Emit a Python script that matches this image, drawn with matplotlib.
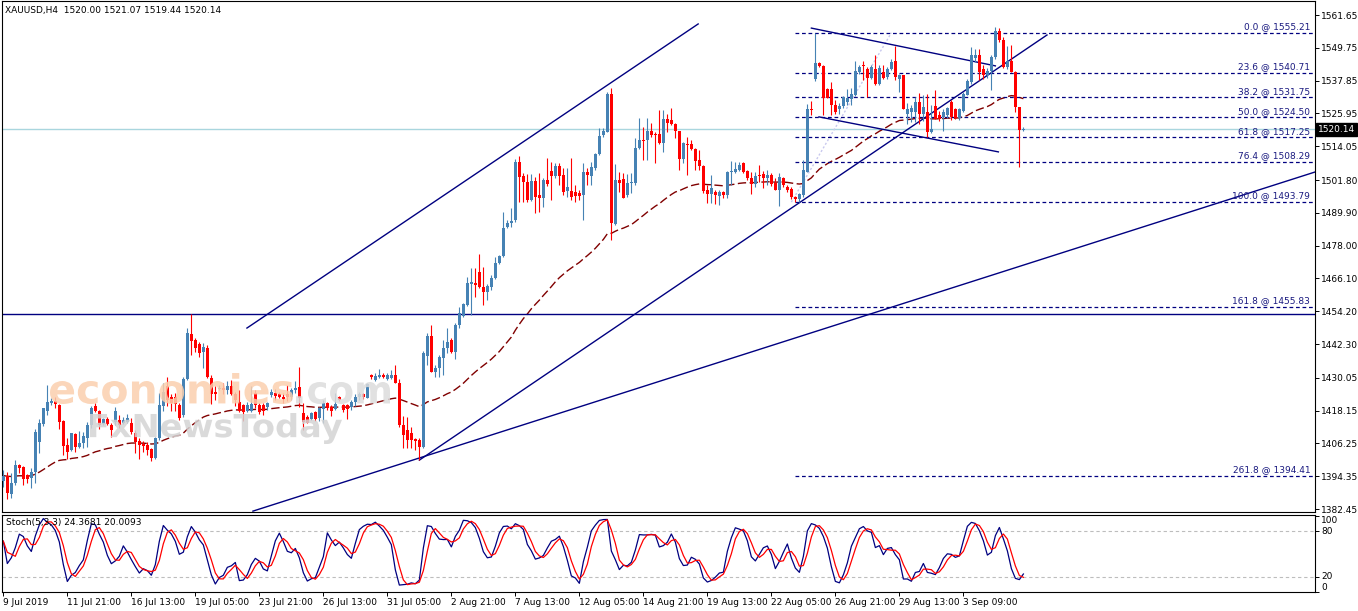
import numpy as np
import pandas as pd
import matplotlib
matplotlib.use("Agg")
import matplotlib.pyplot as plt
from matplotlib.textpath import TextPath
from matplotlib.patches import PathPatch
from matplotlib.font_manager import FontProperties
from matplotlib.transforms import Affine2D, blended_transform_factory

# ---------------- data ----------------
symbol_title = "XAUUSD,H4  1520.00 1521.07 1519.44 1520.14"
stoch_title = "Stoch(5,3,3) 24.3681 20.0093"

opens = [
    1392.6, 1394.5, 1388.0, 1391.8, 1398.4, 1397.8, 1394.8, 1393.6,
    1395.8, 1406.9, 1413.2, 1418.0, 1420.8, 1421.5, 1420.2, 1414.4,
    1405.7, 1403.9, 1409.7, 1405.1, 1406.3, 1408.1, 1413.0, 1420.0,
    1418.0, 1413.2, 1415.1, 1413.0, 1414.0, 1414.7, 1413.5, 1414.0,
    1413.5, 1410.2, 1407.1, 1406.0, 1405.7, 1404.2, 1401.1, 1408.1,
    1420.0, 1427.0, 1423.0, 1423.0, 1420.2, 1416.6, 1429.6, 1445.8,
    1443.8, 1442.2, 1439.5, 1441.0, 1430.0, 1425.0, 1426.0, 1426.5,
    1425.5, 1427.0, 1424.0, 1421.4, 1420.2, 1418.0, 1418.0, 1424.4,
    1420.2, 1420.2, 1419.6, 1423.8, 1424.5, 1424.2, 1423.0, 1424.0,
    1423.0, 1425.5, 1426.8, 1417.2, 1415.9, 1415.0, 1417.8, 1415.3,
    1418.6, 1421.0, 1419.6, 1418.6, 1423.2, 1420.2, 1420.2, 1419.6,
    1421.4, 1423.0, 1424.0, 1422.9, 1431.1, 1429.3, 1430.2, 1431.0,
    1429.7, 1429.9, 1431.1, 1428.3, 1412.9, 1411.1, 1409.9, 1407.7,
    1407.5, 1405.1, 1438.0, 1445.2, 1432.3, 1433.7, 1437.1, 1440.8,
    1443.8, 1439.5, 1449.2, 1452.5, 1456.5, 1464.1, 1464.6, 1468.6,
    1462.9, 1461.3, 1463.1, 1466.1, 1471.6, 1474.2, 1484.6, 1486.1,
    1487.3, 1508.4, 1503.4, 1501.2, 1494.5, 1501.4, 1496.4, 1495.4,
    1501.8, 1505.0, 1503.4, 1507.0, 1503.6, 1497.8, 1497.8, 1497.5,
    1497.0, 1496.4, 1504.6, 1503.4, 1506.3, 1511.1, 1518.1, 1519.3,
    1532.9, 1485.7, 1501.8, 1502.0, 1496.4, 1500.6, 1500.6, 1513.3,
    1516.3, 1516.3, 1519.6, 1518.4, 1518.4, 1515.1, 1523.9, 1523.6,
    1522.0, 1519.6, 1509.4, 1514.7, 1514.7, 1513.0, 1509.1, 1507.0,
    1498.2, 1496.6, 1497.6, 1496.1, 1497.3, 1496.4, 1504.6, 1504.6,
    1505.4, 1507.8, 1505.1, 1502.6, 1500.2, 1503.6, 1503.9, 1502.6,
    1503.5, 1500.6, 1498.2, 1502.4, 1499.4, 1498.4, 1495.8, 1494.8,
    1496.4, 1504.7, 1527.4, 1538.5, 1544.4, 1543.1, 1534.9, 1534.9,
    1528.9, 1527.4, 1528.6, 1530.1, 1531.3, 1532.8, 1541.0, 1543.6,
    1542.2, 1538.8, 1542.2, 1536.7, 1541.0, 1539.2, 1541.9, 1544.8,
    1538.5, 1539.8, 1525.9, 1526.5, 1526.5, 1530.1, 1525.9, 1526.5,
    1519.2, 1528.6, 1525.3, 1524.7, 1525.3, 1530.1, 1527.4, 1524.3,
    1526.7, 1532.8, 1537.3, 1546.0, 1547.0, 1542.2, 1539.8, 1541.2,
    1546.4, 1555.7, 1552.5, 1542.8, 1544.8, 1541.0, 1528.3, 1520.00,
]
highs = [
    1396.6, 1396.0, 1395.4, 1400.2, 1398.7, 1398.2, 1395.0, 1397.2,
    1411.5, 1415.1, 1419.2, 1427.5, 1422.6, 1423.0, 1420.4, 1414.7,
    1408.1, 1410.2, 1409.9, 1410.8, 1410.5, 1414.2, 1420.0, 1421.0,
    1418.5, 1415.4, 1416.0, 1413.5, 1419.5, 1416.6, 1416.0, 1416.8,
    1415.6, 1411.1, 1408.1, 1407.0, 1406.9, 1404.5, 1408.7, 1424.4,
    1428.0, 1430.5, 1424.0, 1424.5, 1420.8, 1430.5, 1448.0, 1453.1,
    1444.4, 1443.0, 1442.6, 1442.0, 1431.0, 1427.0, 1427.5, 1428.0,
    1429.0, 1429.3, 1425.0, 1425.6, 1420.4, 1421.4, 1427.0, 1425.6,
    1421.0, 1420.8, 1421.4, 1426.0, 1426.0, 1425.0, 1424.5, 1427.5,
    1426.5, 1429.0, 1434.1, 1420.8, 1416.5, 1417.8, 1418.1, 1419.6,
    1422.0, 1421.4, 1420.2, 1424.6, 1423.4, 1420.5, 1420.5, 1422.0,
    1424.0, 1425.0, 1424.5, 1428.1, 1431.5, 1431.7, 1433.1, 1431.7,
    1431.7, 1432.9, 1434.6, 1429.5, 1416.2, 1416.0, 1412.3, 1408.3,
    1408.1, 1439.9, 1446.4, 1449.1, 1434.7, 1438.3, 1443.8, 1448.0,
    1444.4, 1450.1, 1455.9, 1457.3, 1466.5, 1469.8, 1469.8, 1474.8,
    1470.4, 1464.0, 1467.3, 1474.0, 1474.6, 1490.3, 1487.3, 1491.5,
    1509.3, 1510.6, 1504.2, 1503.9, 1503.9, 1503.0, 1504.2, 1502.4,
    1509.7, 1508.2, 1507.8, 1507.8, 1506.0, 1506.0, 1509.7, 1500.0,
    1498.0, 1507.8, 1506.0, 1508.4, 1511.5, 1520.5, 1520.5, 1533.6,
    1535.0, 1507.5, 1504.6, 1504.2, 1503.9, 1504.2, 1516.9, 1524.4,
    1521.1, 1524.4, 1522.4, 1519.3, 1527.2, 1527.2, 1525.6, 1528.0,
    1522.4, 1519.6, 1515.7, 1517.5, 1516.3, 1513.3, 1512.7, 1507.2,
    1500.0, 1503.6, 1498.0, 1498.2, 1497.8, 1505.1, 1508.7, 1508.2,
    1508.2, 1508.2, 1505.4, 1504.6, 1504.6, 1507.2, 1505.1, 1505.4,
    1504.2, 1502.4, 1504.2, 1502.8, 1500.0, 1499.4, 1496.0, 1497.2,
    1509.1, 1529.5, 1530.3, 1555.21, 1544.6, 1543.4, 1535.2, 1537.3,
    1530.7, 1529.8, 1532.3, 1534.9, 1535.2, 1544.8, 1543.6, 1544.8,
    1542.8, 1543.6, 1547.0, 1543.4, 1543.4, 1542.8, 1545.6, 1550.4,
    1540.4, 1540.0, 1529.8, 1528.9, 1531.9, 1533.5, 1532.5, 1533.1,
    1528.9, 1534.3, 1526.7, 1527.4, 1528.3, 1531.0, 1527.9, 1527.9,
    1533.7, 1538.5, 1550.0, 1549.4, 1549.4, 1543.4, 1542.6, 1547.0,
    1557.3, 1556.9, 1553.7, 1550.4, 1550.6, 1541.2, 1528.3, 1521.07,
]
lows = [
    1390.6, 1386.0, 1386.6, 1391.2, 1395.4, 1391.2, 1391.8, 1390.0,
    1392.0, 1402.7, 1412.7, 1416.6, 1420.2, 1419.0, 1411.5, 1402.0,
    1400.6, 1403.6, 1403.3, 1404.5, 1404.5, 1405.1, 1412.0, 1417.5,
    1411.5, 1413.0, 1413.0, 1408.7, 1413.0, 1411.7, 1413.2, 1413.5,
    1409.6, 1402.7, 1400.6, 1403.3, 1402.0, 1400.0, 1400.6, 1407.5,
    1418.0, 1420.0, 1418.0, 1418.0, 1414.7, 1416.0, 1429.3, 1438.3,
    1439.5, 1437.5, 1433.5, 1429.9, 1420.5, 1422.0, 1425.5, 1424.0,
    1424.0, 1423.8, 1420.0, 1417.8, 1414.4, 1417.8, 1417.8, 1419.0,
    1417.0, 1416.5, 1418.4, 1423.0, 1422.0, 1422.6, 1421.0, 1421.5,
    1422.0, 1424.5, 1419.6, 1411.1, 1413.5, 1414.7, 1414.5, 1414.5,
    1413.5, 1418.4, 1416.2, 1418.4, 1421.7, 1417.8, 1415.0, 1418.4,
    1420.0, 1422.0, 1422.5, 1422.6, 1429.5, 1429.0, 1430.0, 1429.9,
    1429.2, 1429.5, 1428.0, 1412.3, 1404.5, 1404.5, 1404.5, 1403.9,
    1400.2, 1404.5, 1434.7, 1432.3, 1430.2, 1430.2, 1431.1, 1438.9,
    1438.9, 1436.7, 1448.0, 1452.2, 1456.0, 1452.8, 1459.5, 1462.5,
    1456.5, 1458.3, 1461.9, 1465.8, 1471.3, 1474.0, 1484.3, 1484.9,
    1486.7, 1494.0, 1494.0, 1493.7, 1494.3, 1489.7, 1490.1, 1492.1,
    1499.5, 1494.5, 1502.5, 1500.0, 1496.5, 1495.8, 1494.5, 1494.0,
    1494.5, 1487.3, 1500.0, 1500.0, 1505.4, 1510.9, 1517.5, 1519.1,
    1480.0, 1485.5, 1497.6, 1495.2, 1495.8, 1497.0, 1500.0, 1513.0,
    1509.1, 1509.1, 1517.5, 1507.8, 1514.7, 1512.1, 1519.3, 1521.8,
    1516.9, 1505.4, 1507.8, 1503.6, 1512.7, 1505.4, 1505.4, 1497.0,
    1493.3, 1493.3, 1493.0, 1492.7, 1495.2, 1495.2, 1500.0, 1504.2,
    1505.1, 1504.2, 1501.8, 1496.6, 1499.4, 1501.2, 1498.8, 1500.0,
    1499.6, 1498.2, 1492.4, 1499.1, 1497.5, 1494.8, 1493.79, 1493.9,
    1495.5, 1504.7, 1525.3, 1537.6, 1542.8, 1525.3, 1531.5, 1525.3,
    1525.9, 1525.9, 1527.9, 1528.9, 1528.9, 1532.3, 1540.4, 1538.0,
    1531.9, 1538.5, 1536.4, 1536.1, 1538.3, 1538.5, 1541.6, 1538.0,
    1533.7, 1527.4, 1522.2, 1522.8, 1522.8, 1522.2, 1523.1, 1517.4,
    1519.0, 1523.8, 1523.1, 1519.5, 1524.3, 1523.4, 1523.8, 1523.4,
    1526.5, 1532.5, 1536.7, 1544.5, 1538.0, 1538.5, 1538.8, 1534.3,
    1545.8, 1551.9, 1542.4, 1542.2, 1540.8, 1526.5, 1506.5, 1519.44,
]
closes = [
    1394.6, 1388.2, 1392.0, 1398.4, 1397.2, 1393.4, 1393.4, 1396.0,
    1410.5, 1413.5, 1419.0, 1421.4, 1421.6, 1420.5, 1414.2, 1405.4,
    1403.3, 1409.9, 1405.1, 1406.3, 1409.0, 1413.0, 1419.0, 1418.0,
    1413.0, 1415.1, 1413.2, 1411.0, 1418.0, 1413.0, 1414.7, 1415.4,
    1410.3, 1406.9, 1405.7, 1405.5, 1403.9, 1401.1, 1408.1, 1420.2,
    1425.0, 1422.0, 1421.0, 1420.5, 1415.3, 1429.6, 1446.2, 1443.4,
    1441.0, 1439.0, 1441.4, 1430.2, 1424.0, 1424.0, 1426.5, 1425.5,
    1427.0, 1424.0, 1422.0, 1418.0, 1417.8, 1420.2, 1420.5, 1420.2,
    1417.8, 1418.1, 1420.8, 1425.0, 1423.5, 1423.0, 1422.5, 1423.0,
    1425.5, 1426.5, 1422.6, 1414.1, 1413.8, 1417.4, 1415.0, 1419.0,
    1420.8, 1419.0, 1418.1, 1420.5, 1422.0, 1418.4, 1418.6, 1421.4,
    1423.0, 1424.0, 1423.0, 1427.8, 1430.2, 1430.7, 1431.1, 1430.2,
    1430.9, 1431.1, 1428.3, 1412.9, 1409.3, 1407.5, 1407.5, 1407.2,
    1405.1, 1438.9, 1445.2, 1432.3, 1433.7, 1437.7, 1440.8, 1443.2,
    1439.5, 1449.2, 1453.4, 1456.8, 1464.6, 1464.7, 1463.7, 1463.1,
    1461.3, 1463.3, 1466.1, 1471.6, 1474.2, 1484.3, 1486.1, 1487.0,
    1508.4, 1503.0, 1501.0, 1494.5, 1501.4, 1495.8, 1495.4, 1501.8,
    1500.2, 1503.4, 1507.0, 1503.4, 1497.6, 1499.4, 1495.8, 1496.0,
    1496.0, 1504.6, 1503.6, 1506.6, 1511.1, 1517.9, 1519.6, 1532.9,
    1486.1, 1501.8, 1500.6, 1495.4, 1500.6, 1501.0, 1513.5, 1516.3,
    1515.9, 1519.6, 1518.1, 1518.1, 1515.1, 1523.9, 1522.4, 1522.0,
    1519.6, 1509.4, 1515.1, 1514.5, 1513.0, 1508.7, 1507.0, 1497.8,
    1496.6, 1498.8, 1496.4, 1497.3, 1496.4, 1504.6, 1505.1, 1505.8,
    1507.2, 1504.6, 1502.6, 1500.2, 1503.4, 1503.4, 1502.6, 1503.6,
    1500.4, 1498.2, 1503.0, 1500.0, 1498.0, 1495.5, 1494.8, 1496.7,
    1505.4, 1527.4, 1527.1, 1544.4, 1543.1, 1531.5, 1531.5, 1528.9,
    1526.5, 1528.6, 1531.9, 1531.5, 1533.1, 1541.2, 1542.8, 1543.1,
    1538.8, 1542.8, 1536.7, 1542.4, 1538.8, 1542.2, 1544.6, 1539.2,
    1539.8, 1527.4, 1527.7, 1527.9, 1530.1, 1525.9, 1528.3, 1519.2,
    1520.2, 1524.0, 1524.0, 1526.5, 1527.9, 1524.7, 1524.3, 1527.4,
    1533.1, 1537.6, 1547.0, 1547.0, 1541.0, 1539.8, 1541.2, 1546.4,
    1555.7, 1552.5, 1542.8, 1544.8, 1541.0, 1528.3, 1519.8, 1520.14,
]

time_labels = ["9 Jul 2019", "11 Jul 21:00", "16 Jul 13:00", "19 Jul 05:00",
               "23 Jul 21:00", "26 Jul 13:00", "31 Jul 05:00", "2 Aug 21:00",
               "7 Aug 13:00", "12 Aug 05:00", "14 Aug 21:00", "19 Aug 13:00",
               "22 Aug 05:00", "26 Aug 21:00", "29 Aug 13:00", "3 Sep 09:00"]
bars_per_label = 16

price_ticks = [1561.65, 1549.75, 1537.85, 1525.95, 1514.05, 1501.80, 1489.90,
               1478.00, 1466.10, 1454.20, 1442.30, 1430.05, 1418.15, 1406.25,
               1394.35, 1382.45]
stoch_ticks = [100, 80, 20, 0]
stoch_levels = [80, 20]

fib_ratios = [0.0, 23.6, 38.2, 50.0, 61.8, 76.4, 100.0, 161.8, 261.8]
fib_prices = [1555.21, 1540.71, 1531.75, 1524.50, 1517.25, 1508.29, 1493.79,
              1455.83, 1394.41]
fib_start_bar = 198
fib_diagonal = [(197.0, 1493.79), (222.0, 1555.21)]

support_level = 1453.2
last_price = 1520.14

trend_lines = [
    [(60.9, 1448.1), (173.7, 1558.4)],      # upper channel
    [(104.0, 1400.2), (260.9, 1554.4)],     # lower channel
    [(62.4, 1381.7), (327.9, 1504.7)],      # long support
    [(202.0, 1556.9), (248.0, 1543.2)],     # flag top
    [(203.9, 1524.7), (248.75, 1512.0)],    # flag bottom
]

# ---------------- figure ----------------
W, H = 1358, 611
fig = plt.figure(figsize=(W / 100, H / 100), dpi=100)
fig.patch.set_facecolor("white")

ax = fig.add_axes([2 / W, (H - 512) / H, (1315 - 2) / W, (512 - 1) / H])
ax2 = fig.add_axes([2 / W, (H - 592) / H, (1315 - 2) / W, (592 - 515) / H], sharex=ax)

O = np.array(opens); Hh = np.array(highs); L = np.array(lows); C = np.array(closes)
N = len(C)
x = np.arange(N)

UP, DN = "#4682B4", "#FF0000"
NAVY = "#000080"
cols = np.where(C >= O, UP, DN)

# MA
ma = pd.Series(C).ewm(span=50, adjust=False).mean()
ax.plot(x, ma, color="#800000", lw=1.0, dashes=(6, 2.5), zorder=2)

# candles
ax.vlines(x, L, Hh, colors=cols, lw=0.8, zorder=3)
body_lo = np.minimum(O, C)
body_h = np.maximum(np.abs(C - O), 0.35)
ax.bar(x, body_h, bottom=body_lo, width=0.74, color=cols, lw=0, zorder=4)

# horizontal levels
ax.axhline(last_price, color="#A9D6DE", lw=1.0, zorder=1)
ax.axhline(support_level, color=NAVY, lw=1.0, zorder=2)

xmax = 327.9
ax.hlines(fib_prices, fib_start_bar, xmax, colors=NAVY, lw=0.9,
          linestyles=(0, (3, 2.2)), zorder=2)
btr = blended_transform_factory(ax.transAxes, ax.transData)
for r, p in zip(fib_ratios, fib_prices):
    ax.text(0.9963, p + 0.6, f"{r:.1f} @ {p:.2f}", transform=btr, ha="right",
            va="bottom", fontsize=6.5, color="#1a1a80", zorder=6)

for (x0, y0), (x1, y1) in trend_lines:
    ax.plot([x0, x1], [y0, y1], color=NAVY, lw=1.0, zorder=2)
(dx0, dy0), (dx1, dy1) = fib_diagonal
ax.plot([dx0, dx1], [dy0, dy1], color="#C8C8EE", lw=1.0, ls=(0, (1.5, 1.5)), zorder=1)

ax.set_xlim(-0.33, xmax)
ax.set_ylim(1381.38, 1566.73)
ax.yaxis.tick_right()
ax.set_yticks(price_ticks)
ax.set_yticklabels([f"{v:.2f}" for v in price_ticks])
ax.tick_params(axis="y", direction="out", length=3, width=0.7, labelsize=6.5, pad=1.5)
ax.tick_params(axis="x", bottom=False, labelbottom=False)
for s in ax.spines.values():
    s.set_linewidth(0.8)
    s.set_color("black")

# last price box
ax.text(1.0022, last_price, "1520.14", transform=btr, ha="left", va="center",
        fontsize=6.5, color="white", zorder=7,
        bbox=dict(boxstyle="square,pad=0.22", fc="black", ec="black"))

# ---------------- stochastic ----------------
df = pd.DataFrame({"h": Hh, "l": L, "c": C})
ll = df.l.rolling(5, min_periods=1).min()
hh = df.h.rolling(5, min_periods=1).max()
k = 100 * (df.c - ll).rolling(3, min_periods=1).sum() / (hh - ll).rolling(3, min_periods=1).sum()
d = k.rolling(3, min_periods=1).mean()
for lvl in stoch_levels:
    ax2.axhline(lvl, color="#BDBDBD", lw=0.8, ls=(0, (3, 2.5)))
ax2.plot(x, k, color=NAVY, lw=0.9)
ax2.plot(x, d, color="#FF0000", lw=0.9)
ax2.set_ylim(0, 101)
ax2.yaxis.tick_right()
ax2.set_yticks(stoch_ticks)
ax2.set_yticklabels([str(v) for v in stoch_ticks])
ax2.tick_params(axis="y", direction="out", length=3, width=0.7, labelsize=6.5, pad=1.5)
for lab, v in zip(ax2.get_yticklabels(), stoch_ticks):
    lab.set_va("top" if v == 100 else ("bottom" if v == 0 else "center"))
tick_pos = list(range(0, bars_per_label * len(time_labels), bars_per_label))
ax2.set_xticks(tick_pos)
ax2.set_xticklabels(time_labels, ha="left")
ax2.tick_params(axis="x", direction="out", length=3, width=0.7, labelsize=6.5, pad=1.5)
for s in ax2.spines.values():
    s.set_linewidth(0.8)
    s.set_color("black")

fig.text(5 / W, 1 - 11 / H, symbol_title, fontsize=6.5, va="center", ha="left")
fig.text(6 / W, 1 - 523 / H, stoch_title, fontsize=6.5, va="center", ha="left")


# ---------------- watermark ----------------
def watermark(text, box, color, alpha):
    fp = FontProperties(family="DejaVu Sans", weight="bold")
    tp = TextPath((0, 0), text, size=1, prop=fp)
    ext = tp.get_extents()
    bx0, by0, bx1, by1 = box
    sx = (bx1 - bx0) / ext.width
    sy = (by1 - by0) / ext.height
    tr = (Affine2D().translate(-ext.x0, -ext.y0).scale(sx / W, sy / H)
          .translate(bx0 / W, 1 - by1 / H) + fig.transFigure)
    fig.add_artist(PathPatch(tp, transform=tr, fc=color, ec="none", alpha=alpha, zorder=5))


watermark("economies", (50, 373, 293, 404), "#FBCFAE", 0.85)
watermark(".com", (296, 382, 390, 404), "#DCDCDC", 0.85)
watermark("FxNewsToday", (90, 413, 342, 444), "#D4D4D4", 0.85)

fig.savefig("out.png", dpi=100, facecolor="white")
